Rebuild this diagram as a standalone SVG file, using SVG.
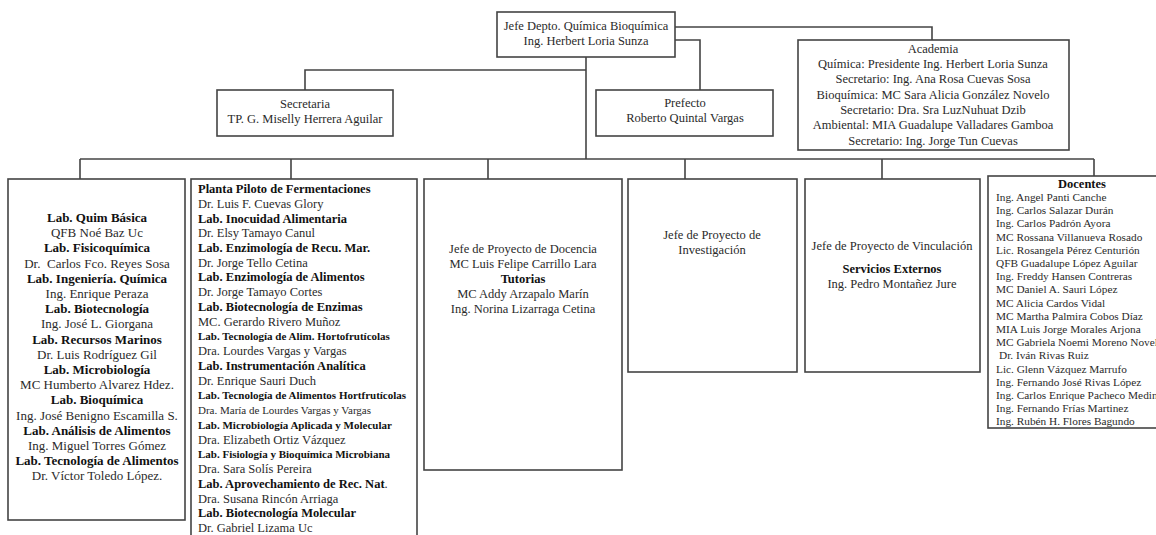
<svg xmlns="http://www.w3.org/2000/svg" width="1156" height="535" viewBox="0 0 1156 535">
<style>
.box{fill:#fff;stroke:#444;stroke-width:1.6}
.ln{fill:none;stroke:#444;stroke-width:1.6}
text{font-family:"Liberation Serif","Times New Roman",serif;font-size:12.5px;fill:#2a2a2a}
.c{text-anchor:middle}
.b{font-weight:bold;fill:#111}
.s{font-size:11px}
.d{font-size:11.3px}
.l{font-size:13px}
</style>
<rect width="1156" height="535" fill="#fff"/>
<g id="connectors">
<path class="ln" d="M675 27H932V40"/>
<path class="ln" d="M675 40H700V90"/>
<path class="ln" d="M586 57V159"/>
<path class="ln" d="M586 70H305V90"/>
<path class="ln" d="M80 159H1094"/>
<path class="ln" d="M80 159V179M291 159V179M488 159V179M685 159V179M882 159V179M1094 159V176"/>
</g>
<g id="jefe">
<rect class="box" x="497" y="12" width="178" height="45"/>
<text class="c" x="586" y="30">Jefe Depto. Química Bioquímica</text>
<text class="c" x="586" y="45">Ing. Herbert Loria Sunza</text>
</g>
<g id="secretaria">
<rect class="box" x="217" y="90" width="176" height="46"/>
<text class="c" x="305" y="108">Secretaria</text>
<text class="c" x="305" y="123">TP. G. Miselly Herrera Aguilar</text>
</g>
<g id="prefecto">
<rect class="box" x="596" y="90" width="177" height="46"/>
<text class="c" x="685" y="107">Prefecto</text>
<text class="c" x="685" y="122">Roberto Quintal Vargas</text>
</g>
<g id="academia">
<rect class="box" x="798" y="40" width="271" height="110"/>
<text class="c" x="933" y="52.5">Academia</text>
<text class="c" x="933" y="68">Química: Presidente Ing. Herbert Loria Sunza</text>
<text class="c" x="933" y="83">Secretario: Ing. Ana Rosa Cuevas Sosa</text>
<text class="c" x="933" y="98.5">Bioquímica: MC Sara Alicia González Novelo</text>
<text class="c" x="933" y="114">Secretario: Dra. Sra LuzNuhuat Dzib</text>
<text class="c" x="933" y="129">Ambiental: MIA Guadalupe Valladares Gamboa</text>
<text class="c" x="933" y="144.5">Secretario: Ing. Jorge Tun Cuevas</text>
</g>
<g id="labs1">
<rect class="box" x="8" y="179" width="177" height="341"/>
<text class="c b l" x="97" y="222">Lab. Quim Básica</text>
<text class="c l" x="97" y="237.2">QFB Noé Baz Uc</text>
<text class="c b l" x="97" y="252.4">Lab. Fisicoquímica</text>
<text class="c l" x="97" y="267.6">Dr.&#160; Carlos Fco. Reyes Sosa</text>
<text class="c b l" x="97" y="282.8">Lab. Ingeniería. Química</text>
<text class="c l" x="97" y="298">Ing. Enrique Peraza</text>
<text class="c b l" x="97" y="313.2">Lab. Biotecnología</text>
<text class="c l" x="97" y="328.4">Ing. José L. Giorgana</text>
<text class="c b l" x="97" y="343.6">Lab. Recursos Marinos</text>
<text class="c l" x="97" y="358.8">Dr. Luis Rodríguez Gil</text>
<text class="c b l" x="97" y="374">Lab. Microbiología</text>
<text class="c l" x="97" y="389.2">MC Humberto Alvarez Hdez.</text>
<text class="c b l" x="97" y="404.4">Lab. Bioquímica</text>
<text class="c l" x="97" y="419.6">Ing. José Benigno Escamilla S.</text>
<text class="c b l" x="97" y="434.8">Lab. Análisis de Alimentos</text>
<text class="c l" x="97" y="450">Ing. Miguel Torres Gómez</text>
<text class="c b l" x="97" y="465.2">Lab. Tecnología de Alimentos</text>
<text class="c l" x="97" y="480.4">Dr. Víctor Toledo López.</text>
</g>
<g id="labs2">
<rect class="box" x="191" y="179" width="226" height="366"/>
<text class="b" x="198" y="193">Planta Piloto de Fermentaciones</text>
<text x="198" y="207.7">Dr. Luis F. Cuevas Glory</text>
<text class="b" x="198" y="222.5">Lab. Inocuidad Alimentaria</text>
<text x="198" y="237.2">Dr. Elsy Tamayo Canul</text>
<text class="b" x="198" y="252">Lab. Enzimología de Recu. Mar.</text>
<text x="198" y="266.7">Dr. Jorge Tello Cetina</text>
<text class="b" x="198" y="281.4">Lab. Enzimología de Alimentos</text>
<text x="198" y="296.2">Dr. Jorge Tamayo Cortes</text>
<text class="b" x="198" y="310.9">Lab. Biotecnología de Enzimas</text>
<text x="198" y="325.7">MC. Gerardo Rivero Muñoz</text>
<text class="b s" x="198" y="340.4">Lab. Tecnología de Alim. Hortofrutícolas</text>
<text x="198" y="355.1">Dra. Lourdes Vargas y Vargas</text>
<text class="b" x="198" y="369.9">Lab. Instrumentación Analítica</text>
<text x="198" y="384.6">Dr. Enrique Sauri Duch</text>
<text class="b s" x="198" y="399.4">Lab. Tecnología de Alimentos Hortfrutícolas</text>
<text class="s" x="198" y="414.1">Dra. María de Lourdes Vargas y Vargas</text>
<text class="b s" x="198" y="428.8">Lab. Microbiología Aplicada y Molecular</text>
<text x="198" y="443.6">Dra. Elizabeth Ortiz Vázquez</text>
<text class="b s" x="198" y="458.3">Lab. Fisiología y Bioquímica Microbiana</text>
<text x="198" y="473.1">Dra. Sara Solís Pereira</text>
<text x="198" y="487.8"><tspan class="b">Lab. Aprovechamiento de Rec. Nat</tspan>.</text>
<text x="198" y="502.5">Dra. Susana Rincón Arriaga</text>
<text class="b" x="198" y="517.3">Lab. Biotecnología Molecular</text>
<text x="198" y="532">Dr. Gabriel Lizama Uc</text>
</g>
<g id="docencia">
<rect class="box" x="424" y="179" width="198" height="291"/>
<text class="c" x="523" y="253">Jefe de Proyecto de Docencia</text>
<text class="c" x="523" y="268">MC Luis Felipe Carrillo Lara</text>
<text class="c b" x="523" y="283">Tutorias</text>
<text class="c" x="523" y="298">MC Addy Arzapalo Marín</text>
<text class="c" x="523" y="313">Ing. Norina Lizarraga Cetina</text>
</g>
<g id="investigacion">
<rect class="box" x="628" y="179" width="169" height="193"/>
<text class="c" x="712" y="239">Jefe de Proyecto de</text>
<text class="c" x="712" y="254">Investigación</text>
</g>
<g id="vinculacion">
<rect class="box" x="805" y="179" width="175" height="193"/>
<text class="c" x="892" y="250">Jefe de Proyecto de Vinculación</text>
<text class="c b" x="892" y="273">Servicios Externos</text>
<text class="c" x="892" y="288">Ing. Pedro Montañez Jure</text>
</g>
<g id="docentes">
<rect class="box" x="988" y="176" width="180" height="252"/>
<text class="c b" x="1082" y="188">Docentes</text>
<text class="d" x="996" y="201">Ing. Angel Panti Canche</text>
<text class="d" x="996" y="214.2">Ing. Carlos Salazar Durán</text>
<text class="d" x="996" y="227.4">Ing. Carlos Padrón Ayora</text>
<text class="d" x="996" y="240.6">MC Rossana Villanueva Rosado</text>
<text class="d" x="996" y="253.8">Lic. Rosangela Pérez Centurión</text>
<text class="d" x="996" y="267">QFB Guadalupe López Aguilar</text>
<text class="d" x="996" y="280.2">Ing. Freddy Hansen Contreras</text>
<text class="d" x="996" y="293.4">MC Daniel A. Sauri López</text>
<text class="d" x="996" y="306.6">MC Alicia Cardos Vidal</text>
<text class="d" x="996" y="319.8">MC Martha Palmira Cobos Díaz</text>
<text class="d" x="996" y="333">MIA Luis Jorge Morales Arjona</text>
<text class="d" x="996" y="346.2">MC Gabriela Noemi Moreno Novelo</text>
<text class="d" x="999" y="359.4">Dr. Iván Rivas Ruiz</text>
<text class="d" x="996" y="372.6">Lic. Glenn Vázquez Marrufo</text>
<text class="d" x="996" y="385.8">Ing. Fernando José Rivas López</text>
<text class="d" x="996" y="399">Ing. Carlos Enrique Pacheco Medina</text>
<text class="d" x="996" y="412.2">Ing. Fernando Frías Martinez</text>
<text class="d" x="996" y="425.4">Ing. Rubén H. Flores Bagundo</text>
</g>
</svg>
